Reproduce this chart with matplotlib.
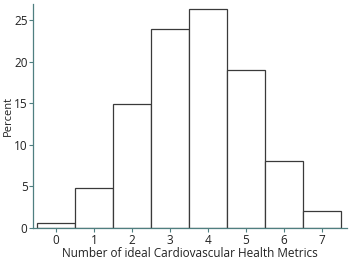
import matplotlib.pyplot as plt

# number of ideal metrics and share of people (percent)
metrics = [0, 1, 2, 3, 4, 5, 6, 7]
percent = [0.6, 4.8, 14.9, 23.9, 26.4, 19.0, 8.1, 2.1]

plt.rcParams['font.family'] = ['Open Sans', 'DejaVu Sans']
spine_col = '#4f7f80'

fig = plt.figure(figsize=(3.49, 2.61), dpi=100)
ax = fig.add_axes([33/349, 33/261, 314/349, 224/261])

ax.bar(metrics, percent, width=1.0, color='white', edgecolor='#3a3a3a', linewidth=0.9)

ax.set_xlim(-0.61, 7.66)
ax.set_ylim(0, 26.95)
ax.set_xticks(metrics)
ax.set_yticks([0, 5, 10, 15, 20, 25])

for s in ['top', 'right']:
    ax.spines[s].set_visible(False)
for s in ['left', 'bottom']:
    ax.spines[s].set_color(spine_col)
    ax.spines[s].set_linewidth(0.9)

ax.tick_params(axis='both', colors=spine_col, labelcolor='#222222', labelsize=8.5,
               length=3, width=0.8, pad=1)

ax.set_xlabel('Number of ideal Cardiovascular Health Metrics', fontsize=8.5, color='#222222', labelpad=0)
ax.set_ylabel('Percent', fontsize=8, color='#222222')
ax.yaxis.set_label_coords(-19/314, 0.5)

fig.savefig('out.png', dpi=100)
